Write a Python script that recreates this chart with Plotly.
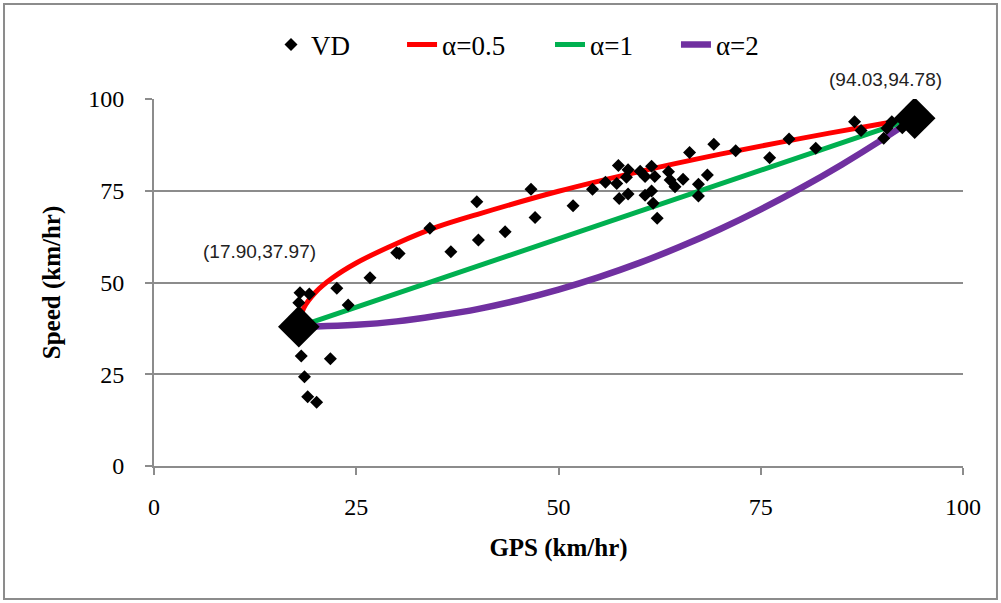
import plotly.graph_objects as go

# ---- data ----
vd_x = [18.05, 19.2, 17.9, 22.6, 24.0, 26.7, 18.2, 21.8, 18.6, 19.0, 20.1,
        30.0, 30.3, 34.1, 36.7, 39.9, 40.1, 43.4, 46.6, 47.1,
        51.8, 54.2, 55.8, 57.2, 57.4, 57.5, 58.6, 58.4, 58.6, 60.1, 60.7, 61.5,
        61.9, 60.7, 61.5, 61.7, 62.2, 63.6, 63.8, 64.4, 65.4, 67.3, 67.3, 68.4,
        66.2, 69.2, 71.9,
        76.1, 78.5, 81.8, 86.6, 87.4, 90.2, 90.6, 91.2, 92.5]
vd_y = [47.2, 46.9, 44.5, 48.4, 43.9, 51.3, 30.0, 29.2, 24.3, 18.9, 17.4,
        58.1, 57.9, 64.8, 58.4, 72.0, 61.6, 63.8, 75.4, 67.7,
        70.9, 75.4, 77.3, 77.0, 81.9, 72.9, 80.7, 78.7, 74.1, 80.3, 78.9, 81.7,
        78.9, 73.8, 74.9, 71.6, 67.5, 80.2, 77.9, 76.1, 78.1, 76.8, 73.6, 79.3,
        85.4, 87.7, 85.9,
        84.0, 89.1, 86.6, 93.8, 91.4, 89.3, 92.0, 93.8, 92.2]

end_x = [17.90, 94.03]
end_y = [37.97, 94.78]
end_labels = ["(17.90,37.97)", "(94.03,94.78)"]

a05_x = [17.9, 18.5, 20, 22, 25, 30, 35, 40, 50, 60, 70, 80, 90, 94.03]
a05_y = [37.97, 43.0, 47.41, 51.15, 55.32, 60.62, 65.13, 68.58, 74.86, 80.22, 84.97, 89.28, 93.26, 94.78]

a1_x = [17.9, 40, 60, 80, 94.03]
a1_y = [37.97, 54.46, 69.39, 84.31, 94.78]

a2_x = [17.9, 20, 25, 30, 35, 40, 45, 50, 55, 60, 65, 70, 75, 80, 85, 90, 94.03]
a2_y = [37.97, 38.01, 38.46, 39.41, 40.94, 42.76, 45.17, 48.07, 51.46, 55.34, 59.72,
        64.58, 69.93, 75.77, 82.10, 88.93, 94.78]

x_ticks = [0, 25, 50, 75, 100]
y_ticks = [0, 25, 50, 75, 100]

# ---- figure ----
serif = "Liberation Serif, Times New Roman, serif"
sans = "Liberation Sans, Arial, sans-serif"
fig = go.Figure()

fig.add_trace(go.Scatter(x=a05_x, y=a05_y, mode="lines", name="α=0.5", legend="legend2",
                         line=dict(color="#FF0000", width=5, shape="spline")))
fig.add_trace(go.Scatter(x=a1_x, y=a1_y, mode="lines", name="α=1", legend="legend3",
                         line=dict(color="#00B050", width=5)))
fig.add_trace(go.Scatter(x=a2_x, y=a2_y, mode="lines", name="α=2", legend="legend4",
                         line=dict(color="#7030A0", width=6.5, shape="spline")))
fig.add_trace(go.Scatter(x=vd_x, y=vd_y, mode="markers", name="VD", legend="legend",
                         marker=dict(symbol="diamond", size=10, color="black")))
fig.add_trace(go.Scatter(x=end_x, y=end_y, mode="markers", showlegend=False,
                         marker=dict(symbol="diamond", size=32, color="black")))

# endpoint labels
fig.add_annotation(x=end_x[0], y=end_y[0], text=end_labels[0], showarrow=False,
                   xshift=-39, yshift=75,
                   font=dict(family=sans, size=19, color="#222"))
fig.add_annotation(x=end_x[1], y=end_y[1], text=end_labels[1], showarrow=False,
                   xshift=-29, yshift=39,
                   font=dict(family=sans, size=19, color="#222"))

# outer border
fig.add_shape(type="rect", xref="paper", yref="paper",
              x0=-0.1854, x1=1.042, y0=-0.3624, y1=1.2589,
              line=dict(color="#8c8c8c", width=2), layer="below")

def leg(xpos):
    return dict(orientation="h", x=xpos, xanchor="left", y=1.147, yanchor="middle",
                font=dict(family=serif, size=27), bgcolor="rgba(0,0,0,0)",
                borderwidth=0, itemwidth=30)

fig.update_layout(
    width=1001, height=603,
    margin=dict(l=154, r=38, t=99, b=137),
    paper_bgcolor="white", plot_bgcolor="white",
    font=dict(family=serif, size=24, color="black"),
    showlegend=True,
    legend=leg(0.1446),
    legend2=leg(0.3066),
    legend3=leg(0.4895),
    legend4=leg(0.6452),
    xaxis=dict(range=[0, 100], tickvals=x_ticks, showgrid=False, zeroline=False,
               showline=True, linecolor="#8c8c8c", linewidth=2,
               ticks="outside", ticklen=7, tickcolor="#8c8c8c", tickwidth=2,
               ticklabelstandoff=11,
               tickfont=dict(family=serif, size=24),
               title=dict(text="<b>GPS (km/hr)</b>", font=dict(family=serif, size=25), standoff=20)),
    yaxis=dict(range=[0, 100], tickvals=y_ticks, showgrid=True, gridcolor="#8c8c8c", gridwidth=2,
               zeroline=False, showline=True, linecolor="#8c8c8c", linewidth=2,
               ticks="outside", ticklen=7, tickcolor="#8c8c8c", tickwidth=2,
               ticklabelstandoff=16,
               tickfont=dict(family=serif, size=24),
               title=dict(text="<b>Speed (km/hr)</b>", font=dict(family=serif, size=25), standoff=20)),
)

fig.write_html("out.html")
